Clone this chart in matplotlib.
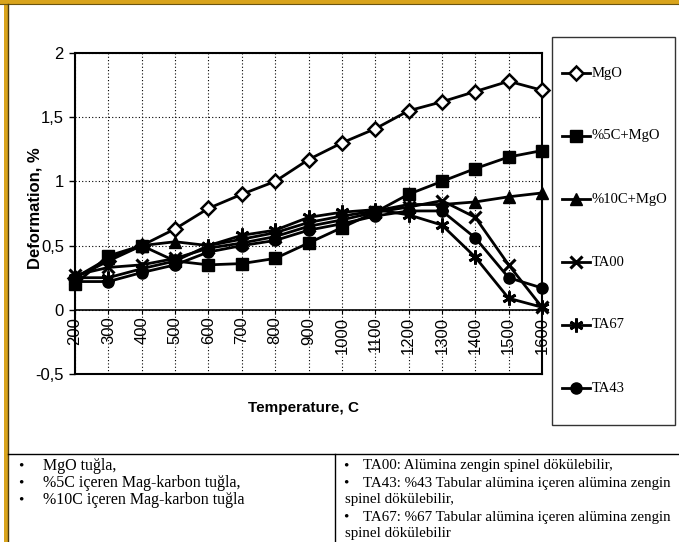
import numpy as np
import matplotlib
matplotlib.use("Agg")
import matplotlib.pyplot as plt
from matplotlib.patches import Rectangle

# --- data: deformation (%) against temperature (C) ---
temperature = [200, 300, 400, 500, 600, 700, 800, 900, 1000, 1100, 1200, 1300, 1400, 1500, 1600]
temp_labels = [str(t) for t in temperature]

mgo    = [0.25, 0.38, 0.50, 0.63, 0.79, 0.90, 1.00, 1.17, 1.30, 1.41, 1.55, 1.62, 1.70, 1.78, 1.71]
c5_mgo = [0.20, 0.42, 0.50, 0.38, 0.35, 0.36, 0.40, 0.52, 0.64, 0.76, 0.90, 1.00, 1.10, 1.19, 1.24]
c10_mgo = [0.25, 0.40, 0.50, 0.53, 0.50, 0.55, 0.60, 0.68, 0.73, 0.77, 0.82, 0.82, 0.84, 0.88, 0.91]
ta00   = [0.27, 0.33, 0.35, 0.40, 0.48, 0.52, 0.57, 0.65, 0.70, 0.76, 0.80, 0.85, 0.72, 0.35, 0.02]
ta67   = [0.25, 0.25, 0.32, 0.38, 0.50, 0.58, 0.62, 0.72, 0.76, 0.78, 0.74, 0.66, 0.41, 0.09, 0.02]
ta43   = [0.22, 0.22, 0.29, 0.35, 0.45, 0.50, 0.54, 0.62, 0.67, 0.73, 0.77, 0.77, 0.56, 0.25, 0.17]

y_ticks = [-0.5, 0, 0.5, 1, 1.5, 2]
y_labels = ["-0,5", "0", "0,5", "1", "1,5", "2"]

left_notes = ["MgO tuğla,", "%5C içeren Mag-karbon tuğla,", "%10C içeren Mag-karbon tuğla"]
right_notes = [
    ("TA00: Alümina zengin spinel dökülebilir,", True),
    ("TA43: %43 Tabular alümina içeren alümina zengin", True),
    ("spinel dökülebilir,", False),
    ("TA67: %67 Tabular alümina içeren alümina zengin", True),
    ("spinel dökülebilir", False),
]

# marker style for each series, shared by the chart and the key
series = [
    ("MgO", mgo, dict(marker="D", ms=7, mfc="white", mec="black", mew=1.8)),
    ("%5C+MgO", c5_mgo, dict(marker="s", ms=8, mfc="black")),
    ("%10C+MgO", c10_mgo, dict(marker="^", ms=8, mfc="black")),
    ("TA00", ta00, dict(marker="x", ms=9, mew=2.2)),
    ("TA67", ta67, dict(marker=(6, 2, 0), ms=10, mew=2.0)),
    ("TA43", ta43, dict(marker="o", ms=8, mfc="black")),
]

W, H = 679, 542
fig = plt.figure(figsize=(W / 100, H / 100), dpi=100)
plt.rcParams["font.family"] = ["Liberation Sans", "DejaVu Sans"]
serif = ["Liberation Serif", "DejaVu Serif"]

# background layer in pixel coordinates: frame, key and notes table
bg = fig.add_axes([0, 0, 1, 1], zorder=-5)
bg.set_xlim(0, W)
bg.set_ylim(H, 0)
bg.axis("off")
gold = "#D9A41C"
bg.fill_between([0, W], 0, 4, color=gold, lw=0)
bg.plot([0, W], [4, 4], color="#6b5410", lw=0.8)
bg.fill_betweenx([0, H], 4, 8, color=gold, lw=0)
bg.plot([8, 8], [4, H], color="#4a3a10", lw=1.0)
bg.plot([8, W], [454, 454], color="black", lw=1.0)
bg.plot([335, 335], [454, H], color="black", lw=1.0)

for i, s in enumerate(left_notes):
    yy = 466 + 17 * i
    bg.text(21, yy, "•", fontsize=11, family=serif, va="center", ha="center")
    bg.text(43, yy, s, fontsize=11.5, family=serif, va="center")
for i, (s, bullet) in enumerate(right_notes):
    yy = 466 + 17 * i
    if bullet:
        bg.text(346, yy, "•", fontsize=11, family=serif, va="center", ha="center")
        bg.text(363, yy, s, fontsize=10.8, family=serif, va="center")
    else:
        bg.text(345, yy, s, fontsize=10.8, family=serif, va="center")

# key box on the right
bg.add_patch(Rectangle((552, 37), 123, 388, fill=False, ec="#333333", lw=1.0))
for i, (name, _, mk) in enumerate(series):
    yy = 73 + 63 * i
    bg.plot([562, 590], [yy, yy], color="black", lw=2)
    bg.plot([576], [yy], color="black", **mk)
    bg.text(592, yy, name, fontsize=10.5, family=serif, va="center")

# --- main chart ---
ax = fig.add_axes([75 / W, 1 - 374 / H, 467 / W, 321 / H])
ax.set_xlim(200, 1600)
ax.set_ylim(-0.5, 2)
ax.set_xticks(temperature)
ax.tick_params(axis="x", length=0, labelbottom=False)
ax.set_yticks(y_ticks)
ax.set_yticklabels(y_labels, fontsize=12)
ax.tick_params(axis="y", direction="out", length=4, width=1, pad=4)
ax.grid(True, color="black", linestyle=(0, (1, 2)), linewidth=0.8)
for sp in ax.spines.values():
    sp.set_linewidth(1.5)

# temperature labels sit on the zero line
sec = ax.secondary_xaxis(0.2)
sec.set_xticks(temperature)
sec.set_xticklabels(temp_labels, rotation=90, fontsize=12)
sec.tick_params(direction="out", length=3, pad=2)
sec.spines["bottom"].set_linewidth(1.2)

for name, vals, mk in series:
    ax.plot(temperature, vals, color="black", lw=2, clip_on=False, zorder=3, label=name, **mk)

fig.text(35 / W, 1 - 208 / H, "Deformation, %", rotation=90, fontsize=12,
         fontweight="bold", ha="center", va="center")
fig.text(303 / W, 1 - 408 / H, "Temperature, C", fontsize=11,
         fontweight="bold", ha="center", va="center")

fig.savefig("out.png", dpi=100)
